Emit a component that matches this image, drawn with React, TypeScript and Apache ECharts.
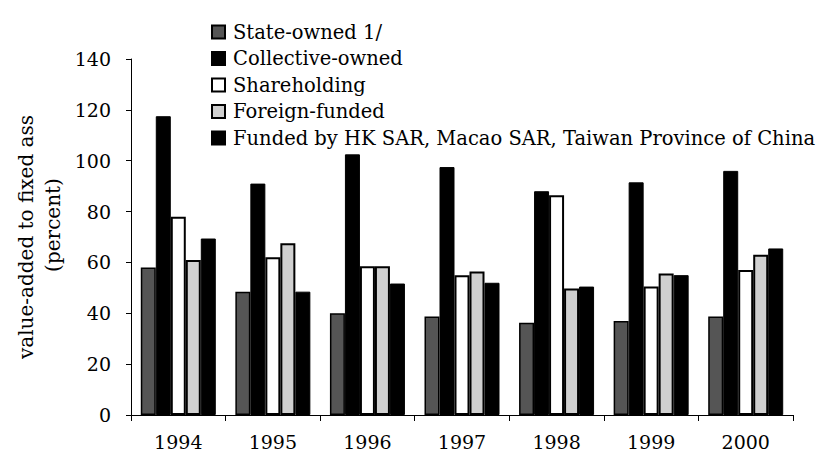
import React, { useEffect, useRef } from "react";
import * as echarts from "echarts";

const years = ["1994", "1995", "1996", "1997", "1998", "1999", "2000"];
const seriesNames = [
  "State-owned 1/",
  "Collective-owned",
  "Shareholding",
  "Foreign-funded",
  "Funded by HK SAR, Macao SAR, Taiwan Province of China",
];
const stateOwned = [58, 48.5, 40, 38.7, 36.3, 37, 38.7];
const collectiveOwned = [117.5, 91, 102.5, 97.5, 88, 91.5, 96];
const shareholding = [78, 62, 58.5, 55, 86.4, 50.5, 57];
const foreignFunded = [61, 67.5, 58.5, 56.4, 49.7, 55.6, 63];
const hkFunded = [69.4, 48.5, 51.7, 52, 50.5, 55, 65.5];
const yTicks = { min: 0, max: 140, interval: 20 };
const yNameLine1 = "value-added to fixed ass";
const yNameLine2 = "(percent)";

const FONT = "'DejaVu Serif', 'Liberation Serif', serif";

export default function App() {
  const ref = useRef<HTMLDivElement>(null);
  useEffect(() => {
    document.body.style.margin = "0";
    if (!ref.current) return;
    const chart = echarts.init(ref.current, null, { renderer: "svg" });
    const styles = [
      { color: "#555555", borderColor: "#000", borderWidth: 1.5 },
      { color: "#000", borderColor: "#000", borderWidth: 1 },
      { color: "#fff", borderColor: "#000", borderWidth: 2 },
      { color: "#d0d0d0", borderColor: "#000", borderWidth: 2 },
      { color: "#000", borderColor: "#000", borderWidth: 1 },
    ];
    const data = [stateOwned, collectiveOwned, shareholding, foreignFunded, hkFunded];
    chart.setOption({
      animation: false,
      backgroundColor: "#fff",
      grid: { left: 131, right: 42, top: 59, bottom: 41, containLabel: false },
      legend: {
        orient: "vertical",
        left: 206,
        top: 17,
        itemWidth: 13,
        itemHeight: 13,
        itemGap: 6.5,
        icon: "rect",
        data: seriesNames,
        textStyle: {
          fontFamily: FONT,
          fontSize: 19.5,
          color: "#000",
          lineHeight: 20,
          padding: [0, 0, 0, 3],
        },
      },
      xAxis: {
        type: "category",
        data: years,
        axisLine: { show: true, lineStyle: { color: "#000", width: 1 } },
        axisTick: { show: true, length: 6, lineStyle: { color: "#000" } },
        axisLabel: { fontFamily: FONT, fontSize: 19, color: "#000", margin: 17 },
      },
      yAxis: {
        type: "value",
        min: yTicks.min,
        max: yTicks.max,
        interval: yTicks.interval,
        axisLine: { show: true, lineStyle: { color: "#000", width: 1 } },
        axisTick: { show: true, length: 5, lineStyle: { color: "#000" } },
        axisLabel: { fontFamily: FONT, fontSize: 19, color: "#000", margin: 20 },
        splitLine: { show: false },
      },
      graphic: [
        {
          type: "text",
          x: 26,
          y: 237,
          rotation: Math.PI / 2,
          style: {
            text: yNameLine1,
            fontFamily: FONT,
            fontSize: 20,
            fill: "#000",
            align: "center",
            verticalAlign: "middle",
          },
        },
        {
          type: "text",
          x: 53,
          y: 225,
          rotation: Math.PI / 2,
          style: {
            text: yNameLine2,
            fontFamily: FONT,
            fontSize: 20,
            fill: "#000",
            align: "center",
            verticalAlign: "middle",
          },
        },
      ],
      series: seriesNames.map((name, i) => ({
        name,
        type: "bar",
        data: data[i],
        barWidth: 15,
        barGap: "0%",
        itemStyle: styles[i],
      })),
    });
    return () => chart.dispose();
  }, []);
  return <div ref={ref} style={{ width: 835, height: 456 }} />;
}
